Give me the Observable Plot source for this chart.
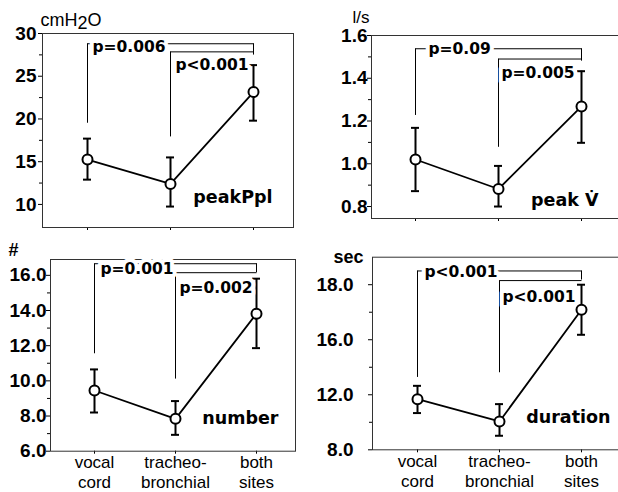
<!DOCTYPE html>
<html>
<head>
<meta charset="utf-8">
<script src="https://cdn.jsdelivr.net/npm/d3@7"></script>
<script src="https://cdn.jsdelivr.net/npm/@observablehq/plot@0.6"></script>
<style>
html, body { margin: 0; padding: 0; background: #fff; }
#root { position: relative; width: 618px; height: 492px; overflow: hidden; background: #fff; }
#root svg { position: absolute; }
</style>
</head>
<body>
<div id="root"></div>
<script>
const categories = ["vocal cord", "tracheo-bronchial", "both sites"];
const categoryLabelsLine1 = ["vocal", "tracheo-", "both"];
const categoryLabelsLine2 = ["cord", "bronchial", "sites"];

// peak Ppl (cmH2O)
const pplMean = [15.25, 12.4, 23.15];
const pplLow = [12.9, 9.75, 19.8];
const pplHigh = [17.7, 15.5, 26.3];
const pplTicks = [10, 15, 20, 25, 30];
const pplTickLabels = ["10", "15", "20", "25", "30"];
const pplMinorTicks = [12.5, 17.5, 22.5, 27.5];
const pplBracketFoot = [19.5, 17.9];
const pplBracketTop = [28.8, 27.85];
const pplBracketEnd = [27.5, 27.5];
const pplPValues = ["p=0.006", "p<0.001"];
const pplPValueY = [28.45, 26.3];

// peak V' (l/s)
const flowMean = [1.02, 0.882, 1.268];
const flowLow = [0.872, 0.8, 1.098];
const flowHigh = [1.168, 0.99, 1.433];
const flowTicks = [0.8, 1.0, 1.2, 1.4, 1.6];
const flowTickLabels = ["0.8", "1.0", "1.2", "1.4", "1.6"];
const flowMinorTicks = [0.9, 1.1, 1.3, 1.5];
const flowBracketFoot = [1.226, 1.077];
const flowBracketTop = [1.538, 1.49];
const flowBracketEnd = [1.486, 1.48];
const flowPValues = ["p=0.09", "p=0.005"];
const flowPValueY = [1.535, 1.425];

// number (#)
const numMean = [9.45, 7.84, 13.82];
const numLow = [8.2, 6.93, 11.86];
const numHigh = [10.65, 8.85, 15.81];
const numTicks = [6, 8, 10, 12, 14, 16];
const numTickLabels = ["6.0", "8.0", "10.0", "12.0", "14.0", "16.0"];
const numMinorTicks = [7, 9, 11, 13, 15];
const numBracketFoot = [11.54, 10.1];
const numBracketTop = [16.66, 16.15];
const numBracketEnd = [16.15, 16.15];
const numPValues = ["p=0.001", "p=0.002"];
const numPValueY = [16.36, 15.3];

// duration (sec) - axis positions as drawn, labels as printed
const durMean = [11.68, 10.06, 18.18];
const durLow = [10.67, 9.02, 16.36];
const durHigh = [12.65, 11.32, 20.0];
const durTicks = [8, 12, 16, 20];
const durTickLabels = ["8.0", "12.0", "16.0", "18.0"];
const durMinorTicks = [10, 14, 18];
const durBracketFoot = [13.26, 13.6];
const durBracketTop = [21.0, 20.3];
const durBracketEnd = [20.34, 20.3];
const durPValues = ["p<0.001", "p<0.001"];
const durPValueY = [20.92, 19.08];

function makePanel(o) {
  const rows = categories.map((c, i) => ({cat: c, mean: o.mean[i], lo: o.low[i], hi: o.high[i]}));
  const br = [0, 1].map(i => ({from: categories[i], to: categories[2], foot: o.foot[i], top: o.btop[i], end: o.end[i], label: o.p[i], ly: o.py[i]}));
  const fmt = d => o.tickLabels[o.ticks.indexOf(d)];
  const pStyle = {fontFamily: "'DejaVu Sans', sans-serif", fontWeight: "bold", fontSize: 15.5, fill: "#000", stroke: "#fff", strokeWidth: 8, textAnchor: "start"};
  const xAxes = o.xlabels ? [
    Plot.axisX(categories, {tickSize: 3, tickPadding: 2.2, tickFormat: d => categoryLabelsLine1[categories.indexOf(d)], fontSize: 17, label: null}),
    Plot.axisX(categories, {tickSize: 0, tickPadding: 25.2, tickFormat: d => categoryLabelsLine2[categories.indexOf(d)], fontSize: 17, label: null})
  ] : [
    Plot.axisX(categories, {tickSize: 3, tickFormat: () => "", label: null})
  ];
  const svg = Plot.plot({
    width: o.width, height: o.height,
    marginLeft: o.ml, marginRight: o.mr, marginTop: o.mt, marginBottom: o.mb,
    x: {type: "point", domain: categories, padding: 0.5, align: 0.53},
    y: {domain: o.domain},
    style: {fontFamily: "'Liberation Sans', Arial, sans-serif", color: "#000", background: "#fff"},
    marks: [
      Plot.axisY(o.minor, {tickSize: 3, tickFormat: () => "", label: null}),
      Plot.axisY(o.ticks, {tickSize: 4, tickPadding: o.tp, tickFormat: fmt, fontSize: 19, fontWeight: "bold", label: null}),
      ...xAxes,
      Plot.frame({stroke: "#333"}),
      Plot.ruleX(br, {x: "from", y1: "foot", y2: "top", strokeWidth: 1}),
      Plot.link(br, {x1: "from", x2: "to", y1: "top", y2: "top", strokeWidth: 1}),
      Plot.ruleX(br, {x: "to", y1: "top", y2: "end", strokeWidth: 1}),
      Plot.line(rows, {x: "cat", y: "mean", stroke: "#000", strokeWidth: 1.8}),
      Plot.ruleX(rows, {x: "cat", y1: "lo", y2: "hi", stroke: "#000", strokeWidth: 2}),
      Plot.ruleY(rows, {x1: "cat", x2: "cat", y: "hi", insetLeft: -4, insetRight: -4, strokeWidth: 2}),
      Plot.ruleY(rows, {x1: "cat", x2: "cat", y: "lo", insetLeft: -4, insetRight: -4, strokeWidth: 2}),
      Plot.dot(rows, {x: "cat", y: "mean", r: 5, fill: "#fff", stroke: "#000", strokeWidth: 2}),
      Plot.text([br[0]], {x: "from", y: "ly", text: "label", dx: o.pdx[0], ...pStyle}),
      Plot.text([br[1]], {x: "from", y: "ly", text: "label", dx: o.pdx[1], ...pStyle}),
      Plot.text([o.name], {text: d => d, frameAnchor: "bottom-right", textAnchor: "end", lineAnchor: "middle", dx: o.ndx, dy: o.ndy, fontFamily: "'DejaVu Sans', sans-serif", fontWeight: "bold", fontSize: 17.5}),
      Plot.text([o.unit], {text: d => d, frameAnchor: "top-left", textAnchor: o.uanchor, lineAnchor: "bottom", dx: o.udx, dy: o.udy, fontSize: o.ufs, fontWeight: o.uweight})
    ]
  });
  svg.style.position = "absolute";
  svg.style.left = o.pos[0] + "px";
  svg.style.top = o.pos[1] + "px";
  d3.select(svg).selectAll("text").filter(function () { return this.textContent === "cmH2O"; }).each(function () {
    const t = d3.select(this);
    t.text(null);
    t.append("tspan").text("cmH");
    t.append("tspan").attr("dy", "0.22em").text("2");
    t.append("tspan").attr("dy", "-0.22em").text("O");
  });
  return svg;
}

const root = document.getElementById("root");

root.appendChild(makePanel({
  pos: [0, 0], width: 309, height: 240, ml: 42, mr: 16, mt: 33, mb: 13,
  domain: [7.3, 30], ticks: pplTicks, tickLabels: pplTickLabels, minor: pplMinorTicks, tp: 2,
  mean: pplMean, low: pplLow, high: pplHigh,
  foot: pplBracketFoot, btop: pplBracketTop, end: pplBracketEnd, p: pplPValues, py: pplPValueY, pdx: [5, 5],
  name: "peakPpl", ndx: -21, ndy: -30,
  unit: "cmH2O", uanchor: "start", udx: -2, udy: -8, ufs: 18, uweight: "normal", xlabels: false
}));

root.appendChild(makePanel({
  pos: [309, 0], width: 313, height: 240, ml: 62, mr: 2, mt: 35, mb: 22,
  domain: [0.744, 1.6], ticks: flowTicks, tickLabels: flowTickLabels, minor: flowMinorTicks, tp: 0,
  mean: flowMean, low: flowLow, high: flowHigh,
  foot: flowBracketFoot, btop: flowBracketTop, end: flowBracketEnd, p: flowPValues, py: flowPValueY, pdx: [13, 3],
  name: "peak V\u0307", ndx: -22, ndy: -18,
  unit: "l/s", uanchor: "start", udx: -19, udy: -13, ufs: 17, uweight: "normal", xlabels: false
}));

root.appendChild(makePanel({
  pos: [0, 240], width: 309, height: 252, ml: 50, mr: 14, mt: 19, mb: 41.3,
  domain: [6, 16.9], ticks: numTicks, tickLabels: numTickLabels, minor: numMinorTicks, tp: 0,
  mean: numMean, low: numLow, high: numHigh,
  foot: numBracketFoot, btop: numBracketTop, end: numBracketEnd, p: numPValues, py: numPValueY, pdx: [6, 4],
  name: "number", ndx: -17, ndy: -33,
  unit: "#", uanchor: "start", udx: -42, udy: -4, ufs: 18, uweight: "bold", xlabels: true
}));

root.appendChild(makePanel({
  pos: [309, 240], width: 313, height: 252, ml: 63, mr: 2, mt: 16.7, mb: 42.7,
  domain: [8, 22], ticks: durTicks, tickLabels: durTickLabels, minor: durMinorTicks, tp: 15,
  mean: durMean, low: durLow, high: durHigh,
  foot: durBracketFoot, btop: durBracketTop, end: durBracketEnd, p: durPValues, py: durPValueY, pdx: [7, 3],
  name: "duration", ndx: -10, ndy: -32,
  unit: "sec", uanchor: "end", udx: -9, udy: 6, ufs: 18, uweight: "bold", xlabels: true
}));
</script>
</body>
</html>
